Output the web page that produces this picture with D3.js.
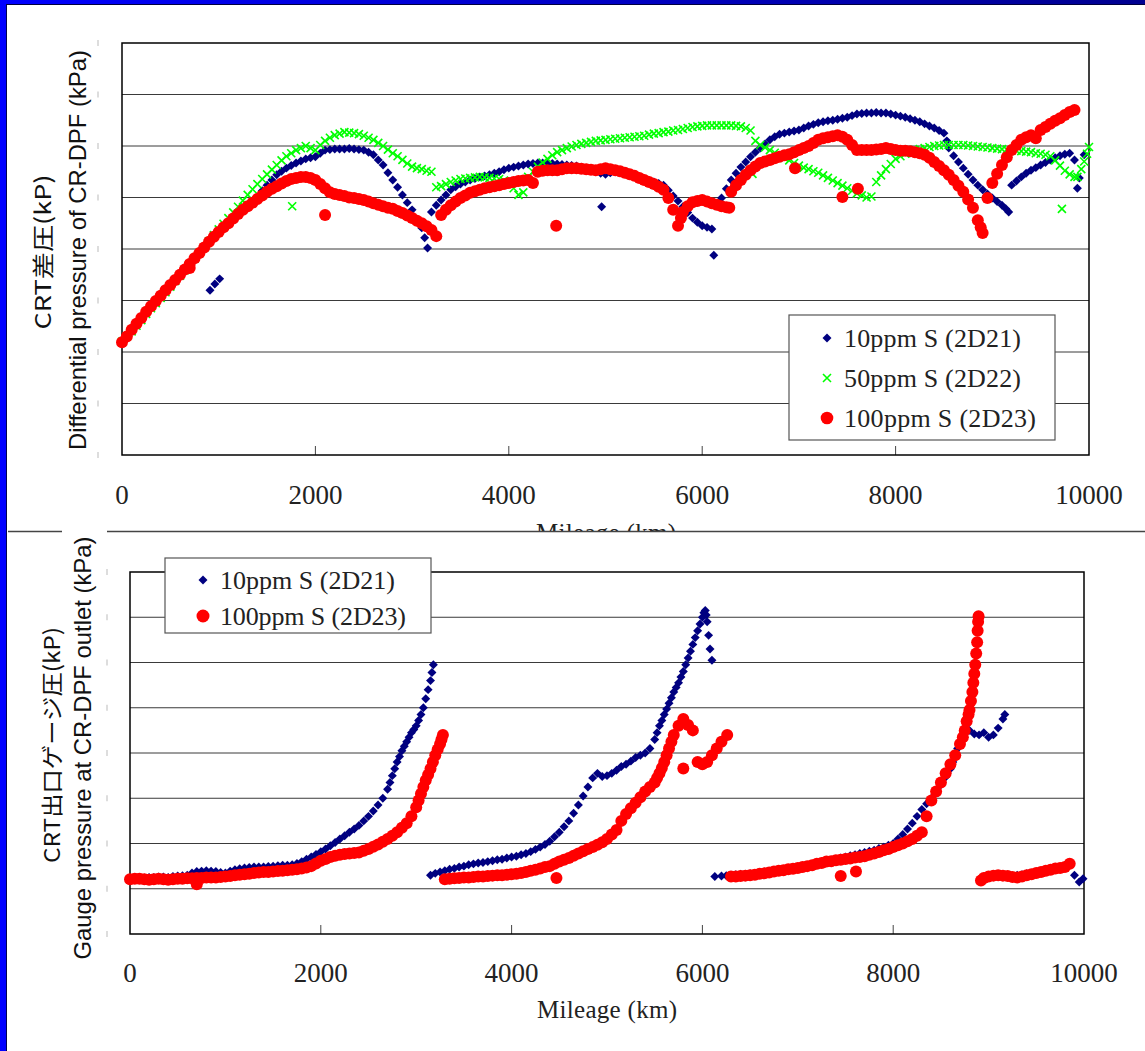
<!DOCTYPE html>
<html>
<head>
<meta charset="utf-8">
<script src="https://cdn.jsdelivr.net/npm/d3@7"></script>
<style>
  body { margin: 0; background: #fff; }
</style>
</head>
<body>
<script>
// ---- data (mileage km, pressure) ----
const xTicks = [0, 2000, 4000, 6000, 8000, 10000];
const gridValues = [1, 2, 3, 4, 5, 6, 7];

// top chart: CR-DPF differential pressure
const topBlue = [[0,2.2],[50,2.31],[100,2.42],[150,2.53],[200,2.64],[250,2.75],[300,2.86],[350,2.96],[400,3.06],[450,3.17],[500,3.27],[550,3.37],[600,3.47],[650,3.58],[700,3.68],[750,3.79],[800,3.9],[850,4.0],[900,4.1],[910,3.2],[950,4.2],[960,3.32],[1000,4.3],[1010,3.42],[1050,4.39],[1100,4.48],[1150,4.56],[1200,4.65],[1250,4.74],[1300,4.83],[1350,4.92],[1400,5.01],[1450,5.13],[1500,5.24],[1550,5.34],[1600,5.44],[1650,5.51],[1700,5.57],[1750,5.62],[1800,5.67],[1850,5.71],[1900,5.75],[1950,5.77],[2000,5.79],[2050,5.86],[2100,5.92],[2150,5.93],[2200,5.94],[2250,5.94],[2300,5.94],[2350,5.95],[2400,5.94],[2450,5.93],[2500,5.92],[2550,5.88],[2600,5.83],[2650,5.73],[2700,5.63],[2750,5.48],[2800,5.34],[2850,5.2],[2900,5.05],[2950,4.9],[3000,4.76],[3050,4.58],[3100,4.41],[3130,4.22],[3160,4.02],
  [3200,4.72],[3250,4.85],[3300,4.95],[3350,5.05],[3400,5.15],[3450,5.21],[3500,5.26],[3550,5.3],[3600,5.34],[3650,5.37],[3700,5.4],[3750,5.42],[3800,5.44],[3850,5.47],[3900,5.5],[3950,5.54],[4000,5.57],[4050,5.59],[4100,5.61],[4150,5.63],[4200,5.65],[4250,5.66],[4300,5.67],[4350,5.67],[4400,5.67],[4450,5.66],[4500,5.65],[4550,5.64],[4600,5.63],[4650,5.62],[4700,5.61],[4750,5.59],[4800,5.57],[4850,5.54],[4900,5.5],[4950,5.47],[4960,4.82],[5000,5.45],[5050,5.48],[5100,5.5],[5150,5.49],[5200,5.48],[5250,5.45],[5300,5.42],[5350,5.39],[5400,5.36],[5450,5.33],[5500,5.3],[5550,5.27],[5600,5.24],[5650,5.14],[5700,5.03],[5750,4.93],[5800,4.82],[5850,4.71],[5900,4.6],[5950,4.52],[6000,4.45],[6050,4.42],[6100,4.39],[6120,3.88],
  [6180,4.9],[6200,4.99],[6250,5.17],[6300,5.34],[6350,5.47],[6400,5.59],[6450,5.69],[6500,5.79],[6550,5.88],[6600,5.96],[6650,6.04],[6700,6.12],[6750,6.18],[6800,6.23],[6850,6.25],[6900,6.27],[6950,6.29],[7000,6.31],[7050,6.35],[7100,6.39],[7150,6.42],[7200,6.45],[7250,6.47],[7300,6.49],[7350,6.5],[7400,6.52],[7450,6.54],[7500,6.56],[7550,6.59],[7600,6.62],[7650,6.63],[7700,6.64],[7750,6.64],[7800,6.65],[7850,6.64],[7900,6.64],[7950,6.62],[8000,6.6],[8050,6.58],[8100,6.56],[8150,6.53],[8200,6.5],[8250,6.47],[8300,6.43],[8350,6.39],[8400,6.35],[8450,6.3],[8500,6.25],[8530,6.1],[8550,5.96],[8600,5.81],[8650,5.69],[8700,5.57],[8750,5.45],[8800,5.34],[8850,5.24],[8900,5.15],[8950,5.07],[9000,4.99],[9050,4.92],[9100,4.85],[9140,4.78],[9170,4.72],
  [9200,5.24],[9250,5.32],[9300,5.4],[9350,5.47],[9400,5.53],[9450,5.58],[9500,5.63],[9550,5.68],[9600,5.73],[9650,5.77],[9700,5.81],[9750,5.84],[9800,5.86],[9850,5.73],[9880,5.18],[9900,5.38],[9950,5.83]];

const topGreen = [[0,2.2],[50,2.3],[100,2.4],[150,2.51],[200,2.62],[250,2.74],[300,2.85],[350,2.95],[400,3.05],[450,3.16],[500,3.27],[550,3.38],[600,3.48],[650,3.59],[700,3.7],[750,3.81],[800,3.92],[850,4.03],[900,4.15],[950,4.27],[1000,4.38],[1050,4.49],[1100,4.6],[1150,4.71],[1200,4.82],[1250,4.94],[1300,5.05],[1350,5.16],[1400,5.26],[1450,5.36],[1500,5.45],[1550,5.54],[1600,5.63],[1650,5.72],[1700,5.8],[1750,5.86],[1760,4.83],[1800,5.92],[1850,5.96],[1900,6.0],[1950,5.96],[2000,5.92],[2050,6.02],[2100,6.1],[2150,6.16],[2200,6.21],[2250,6.24],[2300,6.27],[2350,6.26],[2400,6.25],[2450,6.23],[2500,6.2],[2550,6.16],[2600,6.12],[2650,6.06],[2700,6.0],[2750,5.93],[2800,5.86],[2850,5.8],[2900,5.73],[2950,5.66],[3000,5.6],[3050,5.57],[3100,5.55],[3150,5.52],[3200,5.5],
  [3250,5.2],[3300,5.22],[3350,5.26],[3400,5.3],[3450,5.33],[3500,5.36],[3550,5.37],[3600,5.38],[3650,5.39],[3700,5.4],[3750,5.39],[3800,5.38],[3850,5.37],[3900,5.36],[3950,5.33],[4000,5.3],[4050,5.18],[4100,5.05],[4150,5.1],[4200,5.4],[4250,5.5],[4300,5.6],[4350,5.68],[4400,5.75],[4450,5.82],[4500,5.88],[4550,5.92],[4600,5.96],[4650,5.99],[4700,6.02],[4750,6.04],[4800,6.06],[4850,6.08],[4900,6.1],[4950,6.11],[5000,6.12],[5050,6.13],[5100,6.14],[5150,6.15],[5200,6.16],[5250,6.17],[5300,6.18],[5350,6.19],[5400,6.2],[5450,6.22],[5500,6.24],[5550,6.25],[5600,6.27],[5650,6.28],[5700,6.3],[5750,6.31],[5800,6.33],[5850,6.35],[5900,6.37],[5950,6.38],[6000,6.39],[6050,6.4],[6100,6.4],[6150,6.4],[6200,6.4],[6250,6.4],[6300,6.4],[6350,6.39],[6400,6.38],[6450,6.35],[6500,6.3],[6520,5.46],[6550,6.1],[6600,6.02],[6650,5.97],[6700,5.92],[6750,5.87],[6800,5.82],[6850,5.77],[6900,5.72],[6950,5.67],[7000,5.62],[7050,5.58],[7100,5.55],[7150,5.51],[7200,5.48],[7250,5.43],[7300,5.38],[7350,5.33],[7400,5.28],[7450,5.23],[7500,5.18],[7550,5.13],[7600,5.08],[7650,5.04],[7700,5.0],[7750,5.02],[7800,5.3],[7850,5.43],[7900,5.55],[7950,5.65],[8000,5.75],[8050,5.8],[8100,5.85],[8150,5.89],[8200,5.92],[8250,5.94],[8300,5.96],[8350,5.98],[8400,6.0],[8450,6.01],[8500,6.02],[8550,6.02],[8600,6.02],[8650,6.02],[8700,6.02],[8750,6.01],[8800,6.0],[8850,5.99],[8900,5.98],[8950,5.97],[9000,5.96],[9050,5.95],[9100,5.94],[9150,5.93],[9200,5.92],[9250,5.91],[9300,5.9],[9350,5.89],[9400,5.88],[9450,5.86],[9500,5.85],[9550,5.83],[9600,5.8],[9650,5.72],[9700,5.62],[9720,4.78],[9750,5.52],[9800,5.45],[9850,5.4],[9880,5.4],[9920,5.55],[9950,5.7],[9980,5.85],[10000,5.98]];

const topRed = [[0,2.19],[50,2.3],[100,2.43],[150,2.55],[200,2.66],[250,2.78],[300,2.89],[350,2.99],[400,3.09],[450,3.2],[500,3.3],[550,3.4],[600,3.5],[650,3.6],[700,3.71],[700,3.63],[750,3.82],[800,3.92],[850,4.03],[900,4.14],[950,4.24],[1000,4.33],[1050,4.42],[1100,4.5],[1150,4.59],[1200,4.68],[1250,4.76],[1300,4.83],[1350,4.9],[1400,4.97],[1450,5.04],[1500,5.11],[1550,5.17],[1600,5.22],[1650,5.27],[1700,5.32],[1750,5.36],[1800,5.38],[1850,5.4],[1900,5.4],[1950,5.38],[2000,5.34],[2050,5.26],[2100,5.18],[2100,4.66],[2150,5.1],[2200,5.07],[2250,5.05],[2300,5.03],[2350,5.0],[2400,4.99],[2450,4.97],[2500,4.95],[2550,4.92],[2600,4.89],[2650,4.86],[2700,4.83],[2750,4.8],[2800,4.78],[2850,4.74],[2900,4.7],[2950,4.65],[3000,4.6],[3050,4.55],[3100,4.5],[3150,4.44],[3200,4.37],[3250,4.25],
  [3300,4.66],[3350,4.76],[3400,4.85],[3450,4.92],[3500,4.99],[3550,5.04],[3600,5.09],[3650,5.12],[3700,5.15],[3750,5.18],[3800,5.2],[3850,5.22],[3900,5.24],[3950,5.26],[4000,5.28],[4050,5.3],[4100,5.32],[4150,5.33],[4200,5.34],[4250,5.28],[4300,5.5],[4350,5.52],[4400,5.53],[4450,5.53],[4490,4.45],[4500,5.53],[4550,5.55],[4600,5.57],[4650,5.57],[4700,5.57],[4750,5.56],[4800,5.55],[4850,5.54],[4900,5.53],[4950,5.55],[5000,5.57],[5050,5.55],[5100,5.53],[5150,5.51],[5200,5.48],[5250,5.45],[5300,5.42],[5350,5.38],[5400,5.34],[5450,5.3],[5500,5.26],[5550,5.21],[5600,5.15],[5650,4.99],[5700,4.76],[5750,4.45],[5780,4.6],[5800,4.72],[5850,4.83],[5900,4.91],[5950,4.93],[6000,4.95],[6050,4.92],[6100,4.89],[6150,4.86],[6200,4.83],[6250,4.81],[6280,4.8],
  [6300,5.11],[6350,5.24],[6400,5.34],[6450,5.44],[6500,5.53],[6550,5.6],[6600,5.67],[6650,5.7],[6700,5.73],[6750,5.76],[6800,5.79],[6850,5.82],[6900,5.84],[6950,5.88],[6960,5.57],[7000,5.92],[7050,5.96],[7100,6.0],[7150,6.06],[7200,6.12],[7250,6.15],[7300,6.17],[7350,6.19],[7400,6.21],[7450,6.18],[7450,5.01],[7500,6.12],[7550,6.02],[7600,5.92],[7610,5.17],[7650,5.92],[7700,5.92],[7750,5.92],[7800,5.93],[7850,5.94],[7900,5.96],[7950,5.94],[8000,5.92],[8050,5.91],[8100,5.91],[8150,5.9],[8200,5.88],[8250,5.86],[8300,5.83],[8350,5.77],[8400,5.69],[8450,5.61],[8500,5.53],[8550,5.44],[8600,5.34],[8650,5.23],[8700,5.11],[8750,4.96],[8800,4.8],[8850,4.56],[8880,4.42],[8900,4.31],
  [8950,4.99],[9000,5.28],[9050,5.46],[9100,5.63],[9150,5.78],[9200,5.92],[9250,6.02],[9300,6.12],[9350,6.17],[9400,6.21],[9450,6.15],[9500,6.31],[9550,6.37],[9600,6.43],[9650,6.49],[9700,6.54],[9750,6.6],[9800,6.66],[9850,6.7]];

// bottom chart: CR-DPF outlet gauge pressure
const botBlue = [[0,1.22],[50,1.23],[100,1.24],[150,1.24],[200,1.25],[250,1.25],[300,1.26],[350,1.26],[400,1.25],[450,1.27],[500,1.28],[550,1.29],[600,1.3],[650,1.35],[700,1.38],[750,1.39],[800,1.4],[850,1.39],[900,1.38],[950,1.36],[1000,1.35],[1050,1.39],[1100,1.42],[1150,1.44],[1200,1.46],[1250,1.47],[1300,1.48],[1350,1.48],[1400,1.48],[1450,1.49],[1500,1.5],[1550,1.51],[1600,1.52],[1650,1.52],[1700,1.53],[1750,1.56],[1800,1.6],[1850,1.65],[1900,1.7],[1950,1.76],[2000,1.82],[2050,1.88],[2100,1.95],[2150,2.02],[2200,2.1],[2250,2.17],[2300,2.25],[2350,2.32],[2400,2.4],[2450,2.5],[2500,2.6],[2550,2.72],[2600,2.85],[2650,3.0],[2700,3.2],[2725,3.35],[2750,3.5],[2775,3.65],[2800,3.8],[2825,3.92],[2850,4.05],[2875,4.15],[2900,4.25],[2925,4.35],[2950,4.45],[2975,4.52],[3000,4.6],[3025,4.72],[3050,4.85],[3075,5.0],[3100,5.2],[3125,5.4],[3150,5.6],[3165,5.78],[3180,5.95],
  [3150,1.3],[3200,1.34],[3250,1.37],[3300,1.4],[3350,1.43],[3400,1.45],[3450,1.48],[3500,1.5],[3550,1.53],[3600,1.55],[3650,1.57],[3700,1.58],[3750,1.6],[3800,1.62],[3850,1.64],[3900,1.65],[3950,1.68],[4000,1.7],[4050,1.72],[4100,1.75],[4150,1.78],[4200,1.82],[4250,1.87],[4300,1.92],[4350,1.98],[4400,2.05],[4450,2.15],[4500,2.25],[4550,2.37],[4600,2.5],[4650,2.67],[4700,2.85],[4750,3.05],[4800,3.25],[4850,3.45],[4900,3.55],[4950,3.48],[5000,3.5],[5050,3.55],[5100,3.62],[5150,3.7],[5200,3.75],[5250,3.82],[5300,3.9],[5350,3.95],[5400,4.0],[5450,4.1],[5500,4.3],[5525,4.45],[5550,4.6],[5575,4.72],[5600,4.85],[5625,4.97],[5650,5.1],[5675,5.22],[5700,5.35],[5725,5.45],[5750,5.55],[5775,5.68],[5800,5.8],[5825,5.95],[5850,6.1],[5875,6.25],[5900,6.4],[5925,6.55],[5950,6.7],[5975,6.85],[6000,7.0],[6015,7.1],[6030,7.15],[6040,7.05],[6050,6.9],[6065,6.6],[6080,6.3],[6100,6.05],
  [6130,1.27],[6200,1.28],[6250,1.29],[6300,1.3],[6350,1.31],[6400,1.32],[6450,1.32],[6500,1.33],[6550,1.34],[6600,1.35],[6650,1.37],[6700,1.38],[6750,1.39],[6800,1.4],[6850,1.42],[6900,1.43],[6950,1.45],[7000,1.46],[7050,1.48],[7100,1.5],[7150,1.53],[7200,1.55],[7250,1.58],[7300,1.6],[7350,1.63],[7400,1.65],[7450,1.68],[7500,1.7],[7550,1.73],[7600,1.75],[7650,1.78],[7700,1.8],[7750,1.83],[7800,1.85],[7850,1.89],[7900,1.92],[7950,1.96],[8000,2.0],[8050,2.1],[8100,2.2],[8150,2.32],[8200,2.45],[8250,2.6],[8300,2.75],[8350,2.88],[8400,3.0],[8450,3.15],[8500,3.3],[8550,3.47],[8600,3.65],[8625,3.8],[8650,3.95],[8675,4.1],[8700,4.25],[8725,4.35],[8750,4.45],[8800,4.5],[8850,4.42],[8900,4.4],[8950,4.45],[9000,4.35],[9050,4.4],[9100,4.55],[9150,4.75],[9170,4.85],
  [9300,1.3],[9350,1.31],[9400,1.33],[9450,1.34],[9500,1.36],[9550,1.38],[9600,1.4],[9650,1.42],[9700,1.45],[9750,1.47],[9800,1.5],[9850,1.55],[9900,1.3],[9950,1.15],[9990,1.22]];

const botRed = [[0,1.21],[50,1.22],[100,1.22],[150,1.21],[200,1.2],[250,1.21],[300,1.22],[350,1.21],[400,1.2],[450,1.21],[500,1.22],[550,1.22],[600,1.23],[650,1.23],[700,1.24],[700,1.1],[750,1.24],[800,1.25],[850,1.25],[900,1.25],[950,1.26],[1000,1.27],[1050,1.28],[1100,1.3],[1150,1.31],[1200,1.32],[1250,1.33],[1300,1.35],[1350,1.36],[1400,1.37],[1450,1.37],[1500,1.38],[1550,1.39],[1600,1.4],[1650,1.41],[1700,1.42],[1750,1.43],[1800,1.45],[1850,1.47],[1900,1.5],[1950,1.56],[2000,1.62],[2050,1.66],[2100,1.7],[2150,1.73],[2200,1.75],[2250,1.77],[2300,1.78],[2350,1.79],[2400,1.8],[2450,1.84],[2500,1.88],[2550,1.93],[2600,1.98],[2650,2.04],[2700,2.1],[2750,2.17],[2800,2.25],[2850,2.35],[2900,2.45],[2950,2.6],[3000,2.8],[3025,2.95],[3050,3.1],[3075,3.25],[3100,3.4],[3125,3.52],[3150,3.65],[3175,3.8],[3200,3.95],[3225,4.08],[3250,4.2],[3265,4.3],[3280,4.4],
  [3300,1.21],[3350,1.22],[3400,1.23],[3450,1.24],[3500,1.25],[3550,1.25],[3600,1.26],[3650,1.27],[3700,1.27],[3750,1.28],[3800,1.29],[3850,1.3],[3900,1.3],[3950,1.31],[4000,1.32],[4050,1.33],[4100,1.35],[4150,1.37],[4200,1.4],[4250,1.42],[4300,1.45],[4350,1.48],[4400,1.5],[4450,1.55],[4470,1.24],[4500,1.6],[4550,1.64],[4600,1.68],[4650,1.73],[4700,1.78],[4750,1.83],[4800,1.88],[4850,1.92],[4900,1.97],[4950,2.03],[5000,2.1],[5050,2.2],[5100,2.3],[5150,2.5],[5200,2.65],[5250,2.78],[5300,2.9],[5350,3.02],[5400,3.15],[5450,3.25],[5500,3.35],[5525,3.45],[5550,3.55],[5575,3.67],[5600,3.8],[5625,3.95],[5650,4.1],[5675,4.25],[5700,4.4],[5750,4.6],[5800,4.75],[5800,3.66],[5850,4.62],[5900,4.5],[5950,3.8],[6000,3.75],[6050,3.8],[6100,3.95],[6150,4.1],[6200,4.25],[6260,4.4],
  [6300,1.27],[6350,1.27],[6400,1.28],[6450,1.29],[6500,1.3],[6550,1.31],[6600,1.33],[6650,1.34],[6700,1.36],[6750,1.38],[6800,1.4],[6850,1.41],[6900,1.43],[6950,1.44],[7000,1.46],[7050,1.48],[7100,1.5],[7150,1.52],[7200,1.55],[7250,1.57],[7300,1.6],[7350,1.61],[7400,1.63],[7450,1.64],[7450,1.28],[7500,1.66],[7550,1.67],[7600,1.69],[7610,1.38],[7650,1.7],[7700,1.72],[7750,1.75],[7800,1.78],[7850,1.81],[7900,1.85],[7950,1.88],[8000,1.92],[8050,1.96],[8100,2.0],[8150,2.05],[8200,2.1],[8250,2.17],[8300,2.25],[8350,2.6],[8400,2.95],[8450,3.15],[8500,3.35],[8550,3.55],[8600,3.75],[8650,3.95],[8700,4.2],[8730,4.35],[8750,4.5],[8770,4.7],[8790,4.85],[8800,4.95],[8815,5.15],[8830,5.35],[8840,5.55],[8850,5.75],[8860,5.95],[8870,6.2],[8880,6.45],[8885,6.7],[8890,6.9],[8895,7.02],
  [8920,1.18],[8950,1.24],[9000,1.27],[9050,1.29],[9100,1.3],[9150,1.29],[9200,1.28],[9250,1.26],[9300,1.25],[9350,1.27],[9400,1.3],[9450,1.32],[9500,1.35],[9550,1.37],[9600,1.4],[9650,1.42],[9700,1.45],[9750,1.46],[9800,1.48],[9850,1.55]];

const topLegend = ["10ppm S (2D21)", "50ppm S (2D22)", "100ppm S (2D23)"];
const botLegend = ["10ppm S (2D21)", "100ppm S (2D23)"];

// ---- setup ----
const W = 1145, H = 1051;
const BLUE = "#000080", GREEN = "#00ff00", RED = "#ff0000";
const serif = "'Liberation Serif', 'DejaVu Serif', serif";
const sans = "'Liberation Sans', Arial, sans-serif";
const cjk = "'Noto Sans CJK JP', sans-serif";

const svg = d3.select("body").append("svg").attr("width", W).attr("height", H);

const grad = svg.append("defs").append("linearGradient").attr("id", "topbar");
grad.append("stop").attr("offset", "0%").attr("stop-color", "#0000ff");
grad.append("stop").attr("offset", "100%").attr("stop-color", "#000090");

const diamond = d3.symbol().type(d3.symbolSquare).size(40)();

function drawMarks(g, data, kind, x, y, r) {
  const sel = g.append("g").selectAll("path,circle").data(data);
  if (kind === "diamond") {
    sel.join("path").attr("d", diamond).attr("fill", BLUE)
      .attr("transform", d => `translate(${x(d[0])},${y(d[1])}) rotate(45)`);
  } else if (kind === "cross") {
    sel.join("path").attr("d", "M-4,-4L4,4M-4,4L4,-4").attr("stroke", GREEN)
      .attr("stroke-width", 1.6).attr("fill", "none")
      .attr("transform", d => `translate(${x(d[0])},${y(d[1])})`);
  } else {
    sel.join("circle").attr("r", r).attr("fill", RED)
      .attr("cx", d => x(d[0])).attr("cy", d => y(d[1]));
  }
}

function legendMark(g, kind, cx, cy, r) {
  if (kind === "diamond") g.append("path").attr("d", diamond).attr("fill", BLUE).attr("transform", `translate(${cx},${cy}) rotate(45)`);
  else if (kind === "cross") g.append("path").attr("d", "M-4,-4L4,4M-4,4L4,-4").attr("stroke", GREEN).attr("stroke-width", 1.6).attr("transform", `translate(${cx},${cy})`);
  else g.append("circle").attr("cx", cx).attr("cy", cy).attr("r", r).attr("fill", RED);
}

function drawFrame(x, y, labelY, dashX) {
  const g = svg.append("g");
  const [x0, x1] = x.range(), [y0, y1] = y.range();
  g.selectAll(".grid").data(gridValues).join("line")
    .attr("x1", x0).attr("x2", x1).attr("y1", d => y(d)).attr("y2", d => y(d))
    .attr("stroke", "#3a3a3a").attr("stroke-width", 1);
  // faint remnants of hidden tick labels
  g.selectAll(".dash").data([0, ...gridValues, 8]).join("line")
    .attr("x1", dashX).attr("x2", dashX).attr("y1", d => y(d) - 3).attr("y2", d => y(d) + 3)
    .attr("stroke", "#bbb").attr("stroke-width", 1);
  g.selectAll(".tick").data(xTicks.slice(1, -1)).join("line")
    .attr("x1", d => x(d)).attr("x2", d => x(d)).attr("y1", y0).attr("y2", y0 - 9)
    .attr("stroke", "#444").attr("stroke-width", 1);
  g.append("rect").attr("x", x0).attr("y", y1).attr("width", x1 - x0).attr("height", y0 - y1)
    .attr("fill", "none").attr("stroke", "#000").attr("stroke-width", 1.5);
  g.selectAll(".lab").data(xTicks).join("text")
    .attr("x", d => x(d)).attr("y", labelY).attr("text-anchor", "middle")
    .attr("font-family", serif).attr("font-size", 27).attr("fill", "#222")
    .text(d => d);
  return g;
}

function vTitle(text, cx, cy, font, size, len) {
  svg.append("text").attr("transform", `translate(${cx},${cy}) rotate(-90)`)
    .attr("text-anchor", "middle").attr("dy", "0.35em")
    .attr("font-family", font).attr("font-size", size).attr("fill", "#111")
    .attr("textLength", len).attr("lengthAdjust", "spacingAndGlyphs")
    .text(text);
}

// ---- top chart ----
const xTop = d3.scaleLinear().domain([0, 10000]).range([122, 1089]);
const yTop = d3.scaleLinear().domain([0, 8]).range([455, 43]);
drawFrame(xTop, yTop, 504, 98);

const topG = svg.append("g");
drawMarks(topG, topBlue, "diamond", xTop, yTop);
drawMarks(topG, topGreen, "cross", xTop, yTop);
drawMarks(topG, topRed, "circle", xTop, yTop, 6);

vTitle("CRT差圧(kP)", 43, 252, cjk, 22, 155);
vTitle("Differential pressure of CR-DPF (kPa)", 78, 250, sans, 24, 400);

svg.append("text").attr("x", 606).attr("y", 541).attr("text-anchor", "middle")
  .attr("font-family", serif).attr("font-size", 25).attr("fill", "#222")
  .attr("textLength", 140).text("Mileage (km)");

const tl = svg.append("g");
tl.append("rect").attr("x", 789).attr("y", 315).attr("width", 266).attr("height", 125)
  .attr("fill", "#fff").attr("stroke", "#555").attr("stroke-width", 1.2);
const topKinds = ["diamond", "cross", "circle"];
const topLens = [177, 177, 192];
topLegend.forEach((t, i) => {
  const cy = 338 + i * 40;
  legendMark(tl, topKinds[i], 827, cy, 6.3);
  tl.append("text").attr("x", 844).attr("y", cy + 9).attr("font-family", serif)
    .attr("font-size", 26).attr("fill", "#222").attr("textLength", topLens[i]).text(t);
});

// ---- bottom panel ----
svg.append("rect").attr("x", 8).attr("y", 531).attr("width", W - 8).attr("height", H - 531).attr("fill", "#fff");
svg.append("line").attr("x1", 8).attr("x2", 62).attr("y1", 531.5).attr("y2", 531.5).attr("stroke", "#444").attr("stroke-width", 1.5);
svg.append("line").attr("x1", 107).attr("x2", W).attr("y1", 531.5).attr("y2", 531.5).attr("stroke", "#444").attr("stroke-width", 1.5);

const xBot = d3.scaleLinear().domain([0, 10000]).range([130, 1084]);
const yBot = d3.scaleLinear().domain([0, 8]).range([934, 572]);
drawFrame(xBot, yBot, 982, 107);

const botG = svg.append("g");
drawMarks(botG, botBlue, "diamond", xBot, yBot);
drawMarks(botG, botRed, "circle", xBot, yBot, 6);

vTitle("CRT出口ゲージ圧(kP)", 52, 745, cjk, 22, 236);
vTitle("Gauge pressure at CR-DPF outlet (kPa)", 83, 748, sans, 24, 423);

svg.append("text").attr("x", 607).attr("y", 1018).attr("text-anchor", "middle")
  .attr("font-family", serif).attr("font-size", 25).attr("fill", "#222")
  .attr("textLength", 140).text("Mileage (km)");

const bl = svg.append("g");
bl.append("rect").attr("x", 165).attr("y", 558).attr("width", 266).attr("height", 75)
  .attr("fill", "#fff").attr("stroke", "#555").attr("stroke-width", 1.2);
const botKinds = ["diamond", "circle"];
const botLens = [175, 186];
botLegend.forEach((t, i) => {
  const cy = 580 + i * 36;
  legendMark(bl, botKinds[i], 203, cy, 6.5);
  bl.append("text").attr("x", 220).attr("y", cy + 9).attr("font-family", serif)
    .attr("font-size", 26).attr("fill", "#222").attr("textLength", botLens[i]).text(t);
});

// ---- window frame ----
svg.append("rect").attr("x", 0).attr("y", 0).attr("width", 6).attr("height", H).attr("fill", "#0000ff");
svg.append("line").attr("x1", 6.5).attr("x2", 6.5).attr("y1", 4).attr("y2", H).attr("stroke", "#000050").attr("stroke-width", 1);
svg.append("rect").attr("x", 0).attr("y", 0).attr("width", W).attr("height", 4).attr("fill", "url(#topbar)");
svg.append("line").attr("x1", 6).attr("x2", W).attr("y1", 4.5).attr("y2", 4.5).attr("stroke", "#000040").attr("stroke-width", 1);
</script>
</body>
</html>
